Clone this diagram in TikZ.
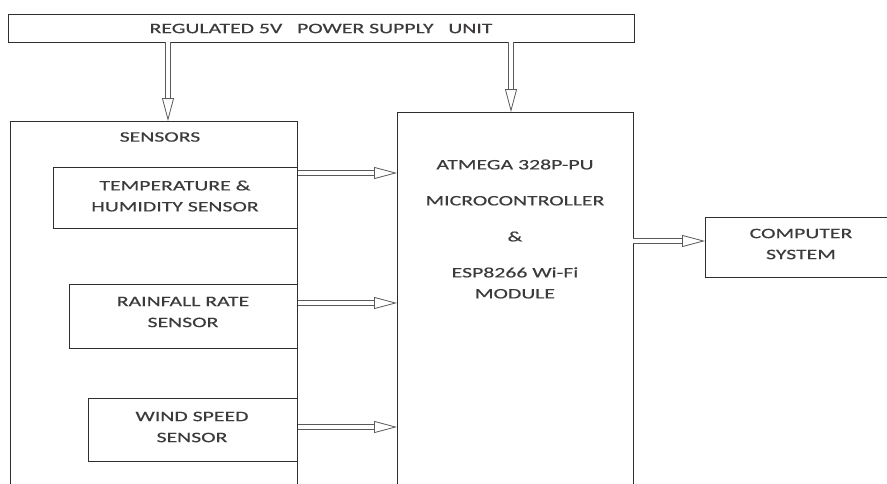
\documentclass[tikz,border=0pt]{standalone}
\usepackage{fontspec}
\setmainfont{Carlito}[FakeStretch=1.5, FakeBold=0.35]
\usetikzlibrary{arrows.meta}
\definecolor{txt}{HTML}{3C3A3A}
\definecolor{edge}{HTML}{2E2E2E}
\definecolor{arr}{HTML}{5A5A5A}
\tikzset{
  blk/.style={draw=edge, line width=1.2pt, fill=white, inner sep=0pt, anchor=north west},
  lbl/.style={text=txt, align=center, font=\fontsize{14.5}{21}\selectfont, inner sep=0pt},
  dbl/.style={draw=arr, line width=0.8pt, double=white, double distance=3.6pt,
    -{Triangle[open, length=23pt, width=12pt, line width=0.8pt]}}
}
\begin{document}
\begin{tikzpicture}[x=1pt,y=-1pt]
\useasboundingbox (0,0) rectangle (887,483);
\clip (0,0) rectangle (887,483);
% boxes
\node[blk, minimum width=626pt, minimum height=28pt] (psu) at (8,14) {};
\node[lbl] (psut) at (321,28.5) {REGULATED 5V\ \ \ POWER SUPPLY\ \ \ UNIT};
\node[blk, minimum width=287pt, minimum height=380pt] (sens) at (10,121) {};
\node[lbl] (senst) at (160,137) {SENSORS};
\node[blk, minimum width=244pt, minimum height=61pt] (temp) at (53,167) {};
\node[lbl] (tempt) at (175,196) {TEMPERATURE \&\\HUMIDITY SENSOR};
\node[blk, minimum width=228pt, minimum height=64pt] (rain) at (69,284) {};
\node[lbl] (raint) at (183,312) {RAINFALL RATE\\SENSOR};
\node[blk, minimum width=209pt, minimum height=63pt] (wind) at (88,398) {};
\node[lbl] (windt) at (192,427) {WIND SPEED\\SENSOR};
\node[blk, minimum width=236pt, minimum height=390pt] (mcu) at (397,112) {};
\node[lbl] (mcut) at (515,229) {ATMEGA 328P-PU\\[15pt]MICROCONTROLLER\\[15pt]\&\\[15pt]ESP8266 Wi-Fi\\MODULE};
\node[blk, minimum width=195pt, minimum height=60pt] (comp) at (705,217) {};
\node[lbl] (compt) at (801,244) {COMPUTER\\SYSTEM};
% connectors
\coordinate (p1) at (168,42);
\coordinate (p2) at (511,42);
\draw[dbl] (p1) -- (p1 |- sens.north);
\draw[dbl] (p2) -- (p2 |- mcu.north);
\draw[dbl] ([yshift=-6pt]temp.north east) -- ([yshift=-6pt]temp.north east -| mcu.west);
\draw[dbl] ([yshift=-19pt]rain.north east) -- ([yshift=-19pt]rain.north east -| mcu.west);
\draw[dbl] ([yshift=-29pt]wind.north east) -- ([yshift=-29pt]wind.north east -| mcu.west);
\coordinate (m1) at (633,241);
\draw[dbl] (m1) -- (m1 -| comp.west);
\end{tikzpicture}
\end{document}
